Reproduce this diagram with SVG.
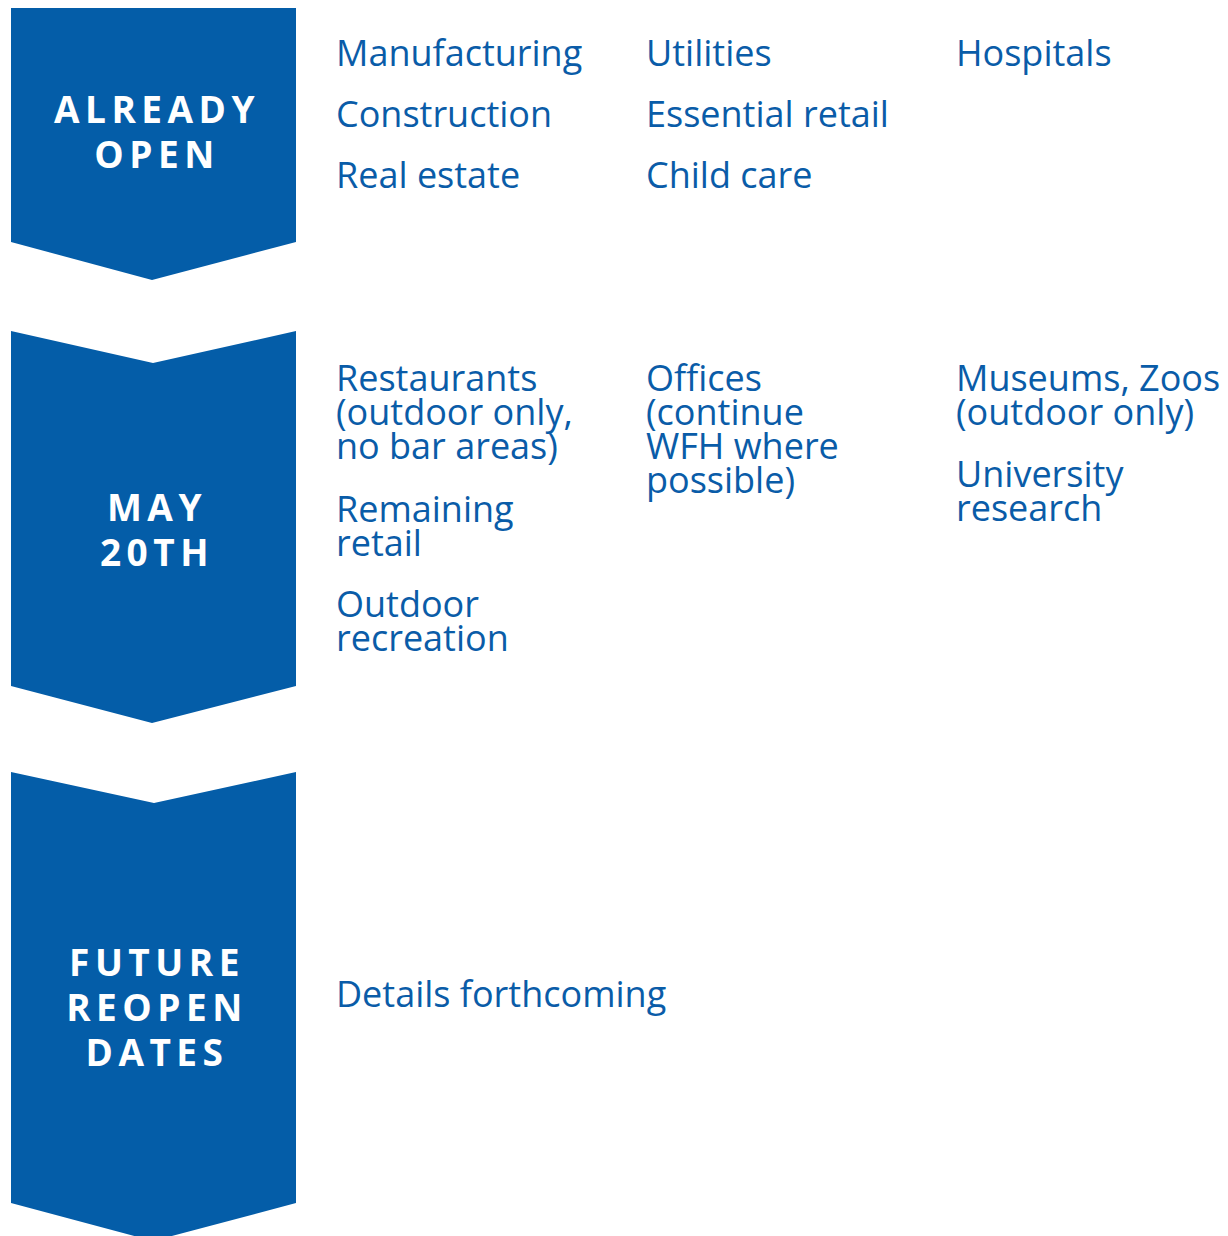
<svg xmlns="http://www.w3.org/2000/svg" width="1228" height="1236" viewBox="0 0 1228 1236">
<style>
.band{fill:#045DA8;}
.lbl{font-family:"Open Sans","Liberation Sans",sans-serif;font-weight:700;font-size:37px;fill:#ffffff;letter-spacing:5.5px;text-anchor:middle;}
.item{font-family:"Open Sans","Liberation Sans",sans-serif;font-size:36px;fill:#0A5CA8;}
</style>
<rect width="1228" height="1236" fill="#ffffff"/>
<g id="connectors"></g>
<g id="node-already-open">
<polygon class="band" points="11,8 296,8 296,242 152,280 11,242"/>
<text class="lbl" x="157" y="123">ALREADY</text>
<text class="lbl" x="157" y="168">OPEN</text>
</g>
<g id="node-may-20th">
<polygon class="band" points="11,331 153,363 296,331 296,686 152,723 11,686"/>
<text class="lbl" x="157" y="521">MAY</text>
<text class="lbl" x="157" y="566">20TH</text>
</g>
<g id="node-future">
<polygon class="band" points="11,772 154,803 296,772 296,1203 153,1241 11,1203"/>
<text class="lbl" x="157" y="976">FUTURE</text>
<text class="lbl" x="157" y="1021">REOPEN</text>
<text class="lbl" x="157" y="1066">DATES</text>
</g>
<g id="items-already-open">
<text class="item" x="336" y="66">Manufacturing</text>
<text class="item" x="336" y="127">Construction</text>
<text class="item" x="336" y="188">Real estate</text>
<text class="item" x="646" y="66">Utilities</text>
<text class="item" x="646" y="127">Essential retail</text>
<text class="item" x="646" y="188">Child care</text>
<text class="item" x="956" y="66">Hospitals</text>
</g>
<g id="items-may-20th">
<text class="item" x="336" y="391">Restaurants</text>
<text class="item" x="336" y="425">(outdoor only,</text>
<text class="item" x="336" y="459">no bar areas)</text>
<text class="item" x="336" y="522">Remaining</text>
<text class="item" x="336" y="556">retail</text>
<text class="item" x="336" y="617">Outdoor</text>
<text class="item" x="336" y="651">recreation</text>
<text class="item" x="646" y="391">Offices</text>
<text class="item" x="646" y="425">(continue</text>
<text class="item" x="646" y="459">WFH where</text>
<text class="item" x="646" y="493">possible)</text>
<text class="item" x="956" y="391">Museums, Zoos</text>
<text class="item" x="956" y="425">(outdoor only)</text>
<text class="item" x="956" y="487">University</text>
<text class="item" x="956" y="521">research</text>
</g>
<g id="items-future">
<text class="item" x="336" y="1007">Details forthcoming</text>
</g>
</svg>
